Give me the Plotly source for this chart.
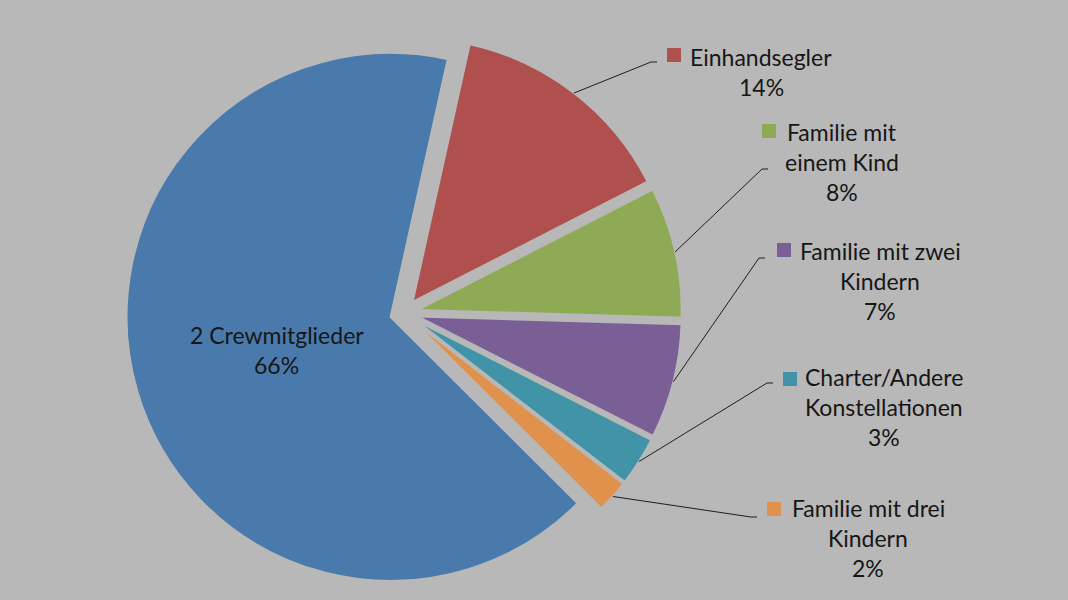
import math
import plotly.graph_objects as go

# ---------------- data ----------------
labels = ["Einhandsegler", "Familie mit einem Kind", "Familie mit zwei Kindern",
          "Charter/Andere Konstellationen", "Familie mit drei Kindern", "2 Crewmitglieder"]
values = [14, 8, 7, 3, 2, 66]
label_lines = [["Einhandsegler", "14%"],
               ["Familie mit", "einem Kind", "8%"],
               ["Familie mit zwei", "Kindern", "7%"],
               ["Charter/Andere", "Konstellationen", "3%"],
               ["Familie mit drei", "Kindern", "2%"],
               ["2 Crewmitglieder", "66%"]]
colors = ["#B0504E", "#8FAA55", "#7A5F96", "#4194A8", "#E0914B", "#4A7AAB"]

# ---------------- layout constants ----------------
W, H = 1068, 600
BG = "#B8B8B8"
TXT = "#161616"
FONT = "Lato"
FS = 23
PULL = 0.053
ROT = 12.5
DOM_X = [0.118, 0.6386]
DOM_Y = [0.015, 0.9417]
LINE_H = 30
# outside label placement (pixels): text centre x, first-line y, key-square left x, leader end
label_pos = [
    dict(cx=761, y0=57, sq=(667, 55), end=(657, 62)),
    dict(cx=842, y0=132, sq=(762, 131), end=(768, 169)),
    dict(cx=880, y0=251, sq=(777, 250), end=(765, 258)),
    dict(cx=884, y0=377, sq=(783, 379), end=(773, 383)),
    dict(cx=868, y0=508, sq=(767, 509), end=(757, 517)),
]
SQ = 14


def px(x):
    return x / W


def py(y):
    return 1 - y / H


# pie geometry (as plotly computes it)
cx = W * (DOM_X[0] + DOM_X[1]) / 2
cy = H * (1 - (DOM_Y[0] + DOM_Y[1]) / 2)
R = min(W * (DOM_X[1] - DOM_X[0]), H * (DOM_Y[1] - DOM_Y[0])) / 2 / (1 + PULL)
total = sum(values)
mids = []
a = ROT
for v in values:
    span = 360 * v / total
    mids.append(a + span / 2)
    a += span


def pt(theta, rad):
    t = math.radians(theta)
    return cx + rad * math.sin(t), cy - rad * math.cos(t)


fig = go.Figure(go.Pie(
    labels=labels, values=values, sort=False, direction="clockwise", rotation=ROT,
    pull=[PULL] * len(values), textinfo="none", hoverinfo="label+percent",
    marker=dict(colors=colors, line=dict(color=BG, width=2)),
    domain=dict(x=DOM_X, y=DOM_Y), showlegend=False,
))

annotations = []
shapes = []
for i in range(5):
    p = label_pos[i]
    for j, line in enumerate(label_lines[i]):
        annotations.append(dict(x=px(p["cx"]), y=py(p["y0"] + j * LINE_H), xref="paper", yref="paper",
                                text=line, showarrow=False, xanchor="center", yanchor="middle",
                                font=dict(family=FONT, size=FS, color=TXT)))
    sx, sy = p["sq"]
    shapes.append(dict(type="rect", xref="paper", yref="paper", x0=px(sx), x1=px(sx + SQ),
                       y0=py(sy - SQ / 2), y1=py(sy + SQ / 2), fillcolor=colors[i], line=dict(width=0)))
    x0, y0 = pt(mids[i], R * (1 + PULL))
    ex, ey = p["end"]
    path = f"M {px(x0)},{py(y0)} L {px(ex - 6)},{py(ey)} L {px(ex)},{py(ey)}"
    shapes.append(dict(type="path", xref="paper", yref="paper", path=path,
                       line=dict(color="#1E1E1E", width=1)))

# big slice label inside
bx, by = pt(mids[5], R * PULL)
t = math.radians(mids[5])
lx, ly = bx + 0.45 * R * math.sin(t), by - 0.45 * R * math.cos(t)
for j, line in enumerate(label_lines[5]):
    annotations.append(dict(x=px(lx), y=py(ly + (j - 0.5) * LINE_H), xref="paper", yref="paper",
                            text=line, showarrow=False, xanchor="center", yanchor="middle",
                            font=dict(family=FONT, size=FS, color=TXT)))

fig.update_layout(width=W, height=H, paper_bgcolor=BG, plot_bgcolor=BG,
                  margin=dict(l=0, r=0, t=0, b=0), annotations=annotations, shapes=shapes)
fig.write_html("out.html", config=dict(displayModeBar=False),
               post_script="document.body.style.margin='0';document.body.style.overflow='hidden';"
                           "document.body.style.background='" + BG + "';")
